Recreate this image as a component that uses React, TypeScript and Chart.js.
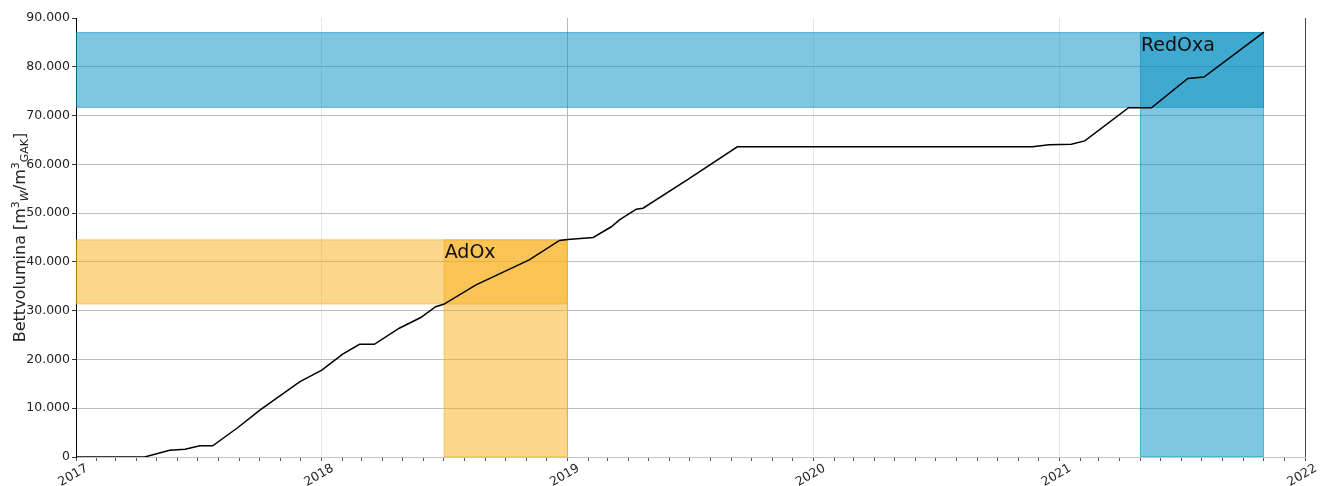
import React, { useEffect, useRef } from 'react';
import { Chart, registerables } from 'chart.js';

Chart.register(...registerables);

// Cumulative bed volumes over time
const sampleDates = [
  '2017-01-01', '2017-04-13', '2017-05-20', '2017-06-12', '2017-07-04', '2017-07-23',
  '2017-08-29', '2017-10-01', '2017-11-29', '2018-01-01', '2018-02-01', '2018-02-26',
  '2018-03-20', '2018-04-26', '2018-05-28', '2018-06-19', '2018-07-01', '2018-08-18',
  '2018-11-05', '2018-12-20', '2019-01-01', '2019-02-08', '2019-03-07', '2019-03-19',
  '2019-04-13', '2019-04-23', '2019-07-01', '2019-09-10', '2020-11-22', '2020-12-17',
  '2021-01-19', '2021-02-08', '2021-04-14', '2021-05-01', '2021-05-18', '2021-07-11',
  '2021-08-04', '2021-11-01',
];
const bedVolumes = [
  0, 0, 1400, 1600, 2300, 2300,
  6000, 9600, 15400, 17800, 21100, 23100,
  23100, 26400, 28600, 30800, 31300, 35300,
  40400, 44400, 44600, 45000, 47200, 48600,
  50800, 51000, 57100, 63600, 63600, 64000,
  64100, 64800, 71600, 71600, 71600, 77600,
  77900, 87100,
];

// Operating phases
const phaseNames = ['AdOx', 'RedOxa'];
const phaseStarts = ['2018-07-01', '2021-05-01'];
const phaseEnds = ['2019-01-01', '2021-11-01'];
const phaseLows = [31300, 71600];
const phaseHighs = [44600, 87100];
const phaseColors = ['rgba(247,175,29,0.5)', 'rgba(0,141,193,0.5)'];

const yearTicks = [2017, 2018, 2019, 2020, 2021, 2022];
const yMax = 90000;
const yStep = 10000;

const FONT = "'DejaVu Sans', sans-serif";

// date string -> fractional year
function toYear(d: string | number[]): number {
  let y: number, m: number, day: number;
  if (typeof d === 'string') {
    const p = d.split('-').map(Number);
    y = p[0]; m = p[1] - 1; day = p[2];
  } else {
    y = d[0]; m = d[1]; day = d[2];
  }
  const t = Date.UTC(y, m, day);
  const a = Date.UTC(y, 0, 1);
  const b = Date.UTC(y + 1, 0, 1);
  return y + (t - a) / (b - a);
}

function formatThousands(v: number): string {
  return String(Math.round(v)).replace(/\B(?=(\d{3})+(?!\d))/g, '.');
}

const phasePlugin = {
  id: 'phases',
  beforeDatasetsDraw(chart: any) {
    const { ctx, chartArea } = chart;
    const xs = chart.scales.x;
    const ys = chart.scales.y;
    ctx.save();
    ctx.beginPath();
    ctx.rect(chartArea.left, chartArea.top, chartArea.right - chartArea.left, chartArea.bottom - chartArea.top);
    ctx.clip();
    phaseNames.forEach((_, i) => {
      const xLeft = xs.getPixelForValue(xs.min);
      const xStart = xs.getPixelForValue(toYear(phaseStarts[i]));
      const xEnd = xs.getPixelForValue(toYear(phaseEnds[i]));
      const yTop = ys.getPixelForValue(phaseHighs[i]);
      const yLow = ys.getPixelForValue(phaseLows[i]);
      const yZero = ys.getPixelForValue(0);
      ctx.fillStyle = phaseColors[i];
      ctx.strokeStyle = phaseColors[i];
      ctx.lineWidth = 0.8;
      // horizontal band
      ctx.fillRect(xLeft, yTop, xEnd - xLeft, yLow - yTop);
      ctx.strokeRect(xLeft + 0.5, yTop + 0.5, xEnd - xLeft - 1, yLow - yTop - 1);
      // vertical band
      ctx.fillRect(xStart, yTop, xEnd - xStart, yZero - yTop);
      ctx.strokeRect(xStart + 0.5, yTop + 0.5, xEnd - xStart - 1, yZero - yTop - 1);
    });
    ctx.restore();
  },
  afterDatasetsDraw(chart: any) {
    const { ctx } = chart;
    const xs = chart.scales.x;
    const ys = chart.scales.y;
    ctx.save();
    ctx.font = `19px ${FONT}`;
    ctx.fillStyle = '#111';
    ctx.textAlign = 'left';
    ctx.textBaseline = 'alphabetic';
    phaseNames.forEach((name, i) => {
      const x = xs.getPixelForValue(toYear(phaseStarts[i]));
      const y = ys.getPixelForValue(phaseHighs[i]);
      ctx.fillText(name, x + 1, y + 19);
    });
    ctx.restore();
  },
  afterDraw(chart: any) {
    const { ctx, chartArea } = chart;
    ctx.save();
    // right spine
    ctx.strokeStyle = '#444';
    ctx.lineWidth = 1;
    ctx.beginPath();
    ctx.moveTo(Math.round(chartArea.right) + 0.5, chartArea.top);
    ctx.lineTo(Math.round(chartArea.right) + 0.5, chartArea.bottom);
    ctx.stroke();

    // y axis title with super/subscripts
    const parts: { t: string; size: number; dy: number; italic?: boolean }[] = [
      { t: 'Bettvolumina [m', size: 16, dy: 0 },
      { t: '3', size: 11, dy: -6 },
      { t: 'W', size: 11, dy: 3, italic: true },
      { t: '/m', size: 16, dy: 0 },
      { t: '3', size: 11, dy: -6 },
      { t: 'GAK', size: 11, dy: 3 },
      { t: ']', size: 16, dy: 0 },
    ];
    const fontOf = (p: any) => `${p.italic ? 'italic ' : ''}${p.size}px ${FONT}`;
    let total = 0;
    const widths = parts.map((p) => {
      ctx.font = fontOf(p);
      const w = ctx.measureText(p.t).width;
      total += w;
      return w;
    });
    const cx = 25;
    const cy = (chartArea.top + chartArea.bottom) / 2;
    ctx.translate(cx, cy);
    ctx.rotate(-Math.PI / 2);
    ctx.fillStyle = '#222';
    ctx.textAlign = 'left';
    ctx.textBaseline = 'alphabetic';
    let x = -total / 2;
    parts.forEach((p, i) => {
      ctx.font = fontOf(p);
      ctx.fillText(p.t, x, p.dy);
      x += widths[i];
    });
    ctx.restore();
  },
};

export default function App() {
  const canvasRef = useRef<HTMLCanvasElement | null>(null);

  useEffect(() => {
    const canvas = canvasRef.current;
    if (!canvas) return;

    const points = sampleDates.map((d, i) => ({ x: toYear(d), y: bedVolumes[i] }));

    const monthTicks: number[] = [];
    for (let y = yearTicks[0]; y < yearTicks[yearTicks.length - 1]; y++) {
      for (let m = 0; m < 12; m++) monthTicks.push(toYear([y, m, 1]));
    }
    monthTicks.push(yearTicks[yearTicks.length - 1]);

    const chart = new Chart(canvas, {
      type: 'line',
      data: {
        datasets: [
          {
            label: 'Bettvolumina',
            data: points,
            borderColor: '#000',
            borderWidth: 1.5,
            pointRadius: 0,
            tension: 0,
            fill: false,
          },
        ],
      },
      options: {
        animation: false,
        responsive: false,
        maintainAspectRatio: false,
        layout: { padding: { top: 18, right: 23, left: 0, bottom: 0 } },
        plugins: {
          legend: { display: false },
          tooltip: { enabled: false },
        },
        scales: {
          x: {
            type: 'linear',
            min: yearTicks[0],
            max: yearTicks[yearTicks.length - 1],
            afterBuildTicks: (scale: any) => {
              scale.ticks = monthTicks.map((v) => ({ value: v }));
            },
            afterFit: (scale: any) => {
              scale.height = 29;
            },
            border: { display: true, color: '#c4c4c4', width: 1 },
            grid: {
              color: (c: any) => {
                const v = c.tick ? c.tick.value : NaN;
                if (!Number.isInteger(v)) return 'rgba(0,0,0,0)';
                return v === 2019 ? '#b8b8b8' : '#e6e6e6';
              },
              tickColor: '#555',
              tickLength: 4,
              lineWidth: 1,
            },
            ticks: {
              autoSkip: false,
              maxRotation: 30,
              minRotation: 30,
              padding: 0,
              labelOffset: 11,
              color: '#222',
              font: { family: FONT, size: 12.5 },
              callback: (v: any) => (Number.isInteger(v) ? String(v) : ''),
            },
          },
          y: {
            min: 0,
            max: yMax,
            afterFit: (scale: any) => {
              scale.width = 76;
            },
            border: { display: true, color: '#000', width: 1 },
            grid: {
              color: (c: any) => (c.tick && c.tick.value === yMax ? 'rgba(0,0,0,0)' : '#bdbdbd'),
              tickColor: '#333',
              tickLength: 4,
              lineWidth: 1,
            },
            ticks: {
              stepSize: yStep,
              padding: 2,
              color: '#222',
              font: { family: FONT, size: 12.5 },
              callback: (v: any) => formatThousands(Number(v)),
            },
          },
        },
      },
      plugins: [phasePlugin],
    });

    return () => chart.destroy();
  }, []);

  return (
    <div style={{ position: 'absolute', left: 0, top: 0, width: 1328, height: 486, background: '#fff' }}>
      <canvas ref={canvasRef} width={1328} height={486} style={{ display: 'block' }} />
    </div>
  );
}
